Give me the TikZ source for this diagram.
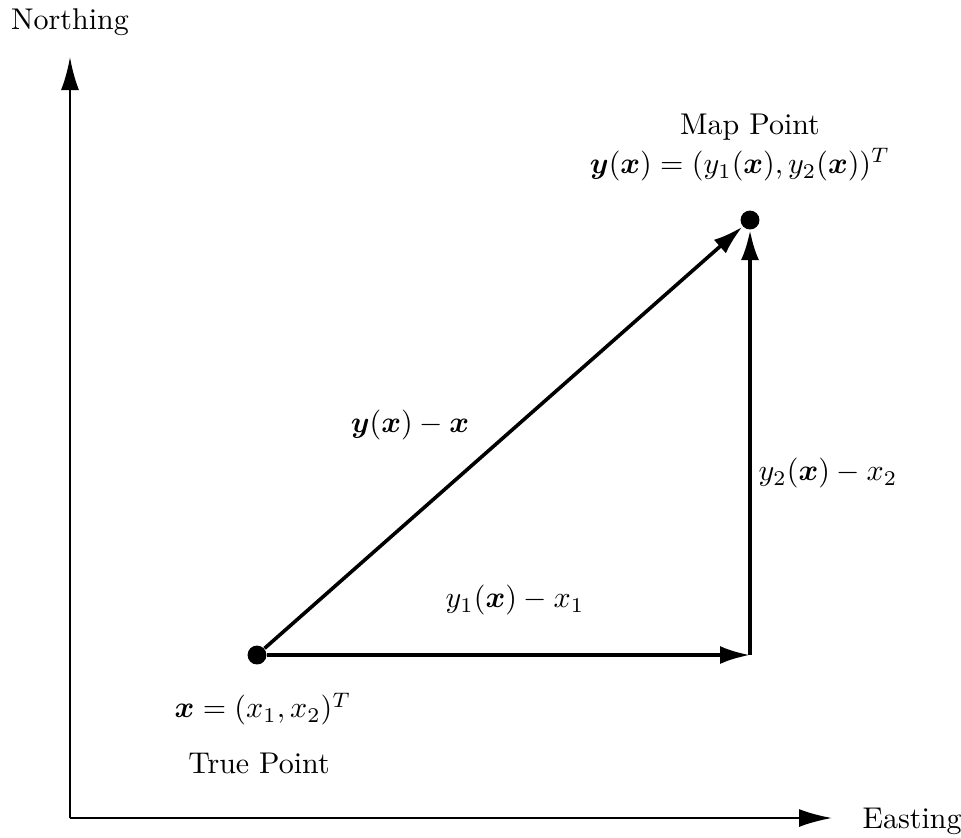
\documentclass[tikz,border=0pt]{standalone}
\usepackage{amsmath,amssymb}
\usepackage{tikz}
\usetikzlibrary{arrows.meta,calc}

\tikzset{
  axis/.style={line width=0.8pt,-{Latex[length=11pt,width=6pt]}},
  vec/.style={line width=1.2pt,-{Latex[length=10pt,width=6pt]}},
  dot/.style={circle,fill=black,inner sep=0pt,minimum size=6.3pt},
}

\begin{document}
\begin{tikzpicture}[x=0.3333pt,y=-0.3333pt]
  \useasboundingbox (0,0) rectangle (961,837);
  % axes
  \coordinate (origin) at (70,818);
  \coordinate (ntip) at (70,57);
  \coordinate (etip) at (832,818);
  \draw[axis] (origin) -- (ntip);
  \draw[axis] (origin) -- (etip);
  \node (north) at (70,22) {Northing};
  \node[anchor=west] (east) at (852,821) {Easting};
  % points
  \node[dot] (true) at (257,655) {};
  \node[dot] (map) at (750,220) {};
  \coordinate (corner) at (map |- true);
  \draw[vec] (true) -- (corner);
  \draw[vec] (corner) -- (map);
  \draw[vec] (true) -- (map);
  % labels
  \node (maplbl) at (750,127) {Map Point};
  \node (mapeq) at (740,165) {$\boldsymbol{y}(\boldsymbol{x}) = (y_1(\boldsymbol{x}), y_2(\boldsymbol{x}))^T$};
  \node (truelbl) at (259,763) {True Point};
  \node (trueeq) at (263,709) {$\boldsymbol{x} = (x_1, x_2)^T$};
  \node (diff) at (410,425) {$\boldsymbol{y}(\boldsymbol{x}) - \boldsymbol{x}$};
  \node (diffe) at (515,600) {$y_1(\boldsymbol{x}) - x_1$};
  \node (diffn) at (828,473) {$y_2(\boldsymbol{x}) - x_2$};
\end{tikzpicture}
\end{document}
